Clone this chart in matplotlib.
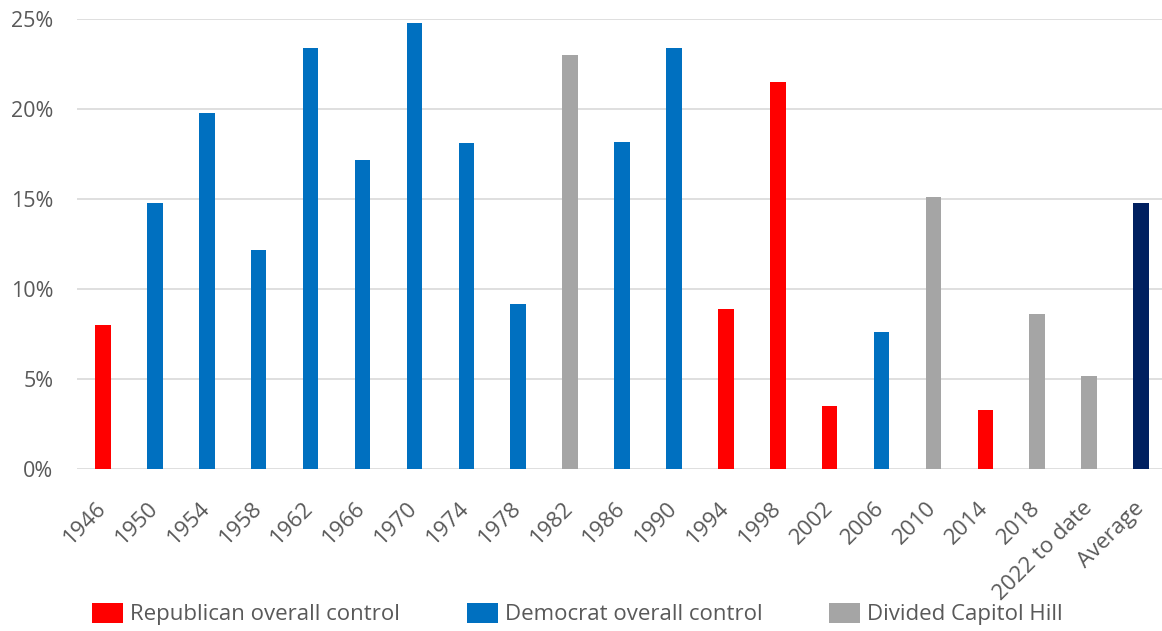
import matplotlib.pyplot as plt
from matplotlib.patches import Patch
from matplotlib.ticker import PercentFormatter

plt.rcParams['font.family'] = ['Open Sans', 'DejaVu Sans']

# midterm cycles and the market move for each (in %)
labels = ['1946', '1950', '1954', '1958', '1962', '1966', '1970', '1974', '1978',
          '1982', '1986', '1990', '1994', '1998', '2002', '2006', '2010', '2014',
          '2018', '2022 to date', 'Average']
values = [8.0, 14.8, 19.8, 12.2, 23.4, 17.2, 24.8, 18.1, 9.2,
          23.0, 18.2, 23.4, 8.9, 21.5, 3.5, 7.6, 15.1, 3.3,
          8.6, 5.2, 14.8]
control = ['R', 'D', 'D', 'D', 'D', 'D', 'D', 'D', 'D',
           'S', 'D', 'D', 'R', 'R', 'R', 'D', 'S', 'R',
           'S', 'S', 'A']

colors = {'R': '#FF0000', 'D': '#0070C0', 'S': '#A5A5A5', 'A': '#002060'}
names = {'R': 'Republican overall control', 'D': 'Democrat overall control',
         'S': 'Divided Capitol Hill'}
text_color = '#595959'

fig = plt.figure(figsize=(11.62, 6.31), dpi=100)
ax = fig.add_axes([0.0663, 0.2563, 0.938, 0.7132])

x = range(len(labels))
ax.bar(x, values, width=0.3, color=[colors[c] for c in control], zorder=3)

ax.set_xlim(-0.5, len(labels) - 0.5)
ax.set_ylim(0, 25)
ax.set_yticks([0, 5, 10, 15, 20, 25])
ax.yaxis.set_major_formatter(PercentFormatter(decimals=0))
ax.grid(axis='y', color='#D9D9D9', linewidth=1.2, zorder=0)
for s in ax.spines.values():
    s.set_visible(False)

ax.set_xticks(list(x))
ax.set_xticklabels(labels, rotation=45, ha='right', va='center',
                   rotation_mode='anchor')
ax.tick_params(axis='x', length=0, pad=26, labelsize=16, labelcolor=text_color)
ax.tick_params(axis='y', length=0, pad=17, labelsize=15.5, labelcolor=text_color)

handles = [Patch(facecolor=colors[k], label=names[k]) for k in ['R', 'D', 'S']]
fig.legend(handles=handles, loc='center', bbox_to_anchor=(0.497, 0.027),
           ncol=3, frameon=False, fontsize=16, labelcolor=text_color,
           handlelength=1.4, handleheight=1.05, handletextpad=0.32,
           columnspacing=3.0, borderaxespad=0, borderpad=0)

fig.savefig('out.png', dpi=100)
